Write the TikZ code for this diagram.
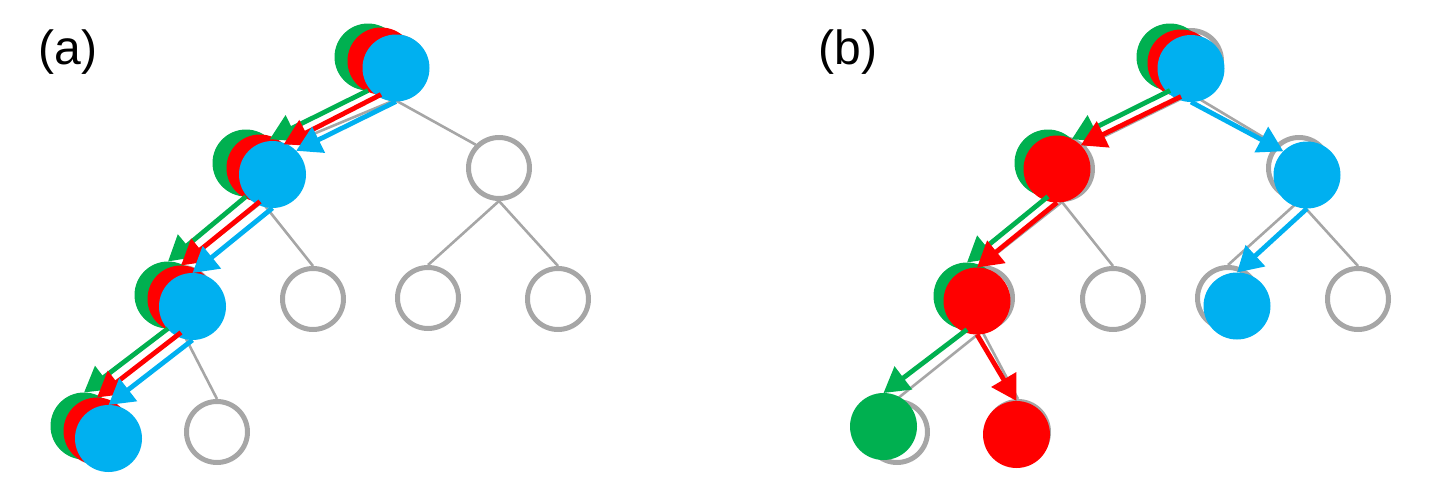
\documentclass[tikz,border=0pt]{standalone}
\usepackage{fontspec}
\setmainfont{Liberation Sans}
\usetikzlibrary{arrows.meta}
\definecolor{cgreen}{HTML}{00B050}
\definecolor{cred}{HTML}{FF0000}
\definecolor{cblue}{HTML}{00B0F0}
\definecolor{cgray}{HTML}{A6A6A6}
\tikzset{
  gnode/.style={circle,draw=cgray,line width=2.5pt,minimum size=30.5pt,inner sep=0pt},
  cnode/.style={circle,draw=none,fill=#1,minimum size=33.5pt,inner sep=0pt,outer sep=0pt},
  tedge/.style={draw=cgray,line width=1.3pt},
  arr/.style={draw=#1,line width=2.4pt,-{Triangle[length=12.5pt,width=14pt]}},
  lab/.style={anchor=base west,inner sep=0pt,font=\fontsize{24pt}{28pt}\selectfont}
}
\begin{document}
\begin{tikzpicture}[x=0.5pt,y=-0.5pt]
\useasboundingbox (0,0) rectangle (1442,487);
\node[lab] (la) at (38,64) {(a)};
\node[lab] (lb) at (818,64) {(b)};
% ---------- panel (a) gray tree ----------
\node[gnode] (a0) at (395,67) {};
\node[gnode] (aL) at (262,169) {};
\node[gnode] (aR) at (499,168) {};
\node[gnode] (aLL) at (182,298) {};
\node[gnode] (aLR) at (313,299) {};
\node[gnode] (aRL) at (428,298) {};
\node[gnode] (aRR) at (558,299) {};
\node[gnode] (aLLL) at (97,432) {};
\node[gnode] (aLLR) at (217,432) {};
\draw[tedge] (a0.south) -- (aL.north east);
\draw[tedge] (a0.south) -- (aR.north west);
\draw[tedge] (aL.south) -- (aLL.north);
\draw[tedge] (aL.south) -- (aLR.north);
\draw[tedge] (aR.south) -- (aRL.north);
\draw[tedge] (aR.south) -- (aRR.north);
\draw[tedge] (aLL.south) -- (aLLL.north);
\draw[tedge] (aLL.south) -- (aLLR.north);
% ---------- panel (b) gray tree ----------
\node[gnode] (b0) at (1191,61) {};
\node[gnode] (bL) at (1062,169) {};
\node[gnode] (bR) at (1299,168) {};
\node[gnode] (bLL) at (982,298) {};
\node[gnode] (bLR) at (1113,299) {};
\node[gnode] (bRL) at (1228,298) {};
\node[gnode] (bRR) at (1358,299) {};
\node[gnode] (bLLL) at (897,432) {};
\node[gnode] (bLLR) at (1018,432) {};
\draw[tedge] (b0.south) -- (bL.north east);
\draw[tedge] (b0.south) -- (bR.north west);
\draw[tedge] (bL.south) -- (bLL.north);
\draw[tedge] (bL.south) -- (bLR.north);
\draw[tedge] (bR.south) -- (bRL.north);
\draw[tedge] (bR.south) -- (bRR.north);
\draw[tedge] (bLL.south) -- (bLLL.north);
\draw[tedge] (bLL.south) -- (bLLR.north);
% ---------- panel (a) coloured circles ----------
\node[cnode=cgreen] (ag0) at (368,57) {};
\node[cnode=cred] (ar0) at (381,61) {};
\node[cnode=cblue] (ab0) at (396,68) {};
\node[cnode=cgreen] (ag1) at (246,163) {};
\node[cnode=cred] (ar1) at (260,168) {};
\node[cnode=cblue] (ab1) at (272.5,174.5) {};
\node[cnode=cgreen] (ag2) at (168,295) {};
\node[cnode=cred] (ar2) at (181,299) {};
\node[cnode=cblue] (ab2) at (192.5,306.5) {};
\node[cnode=cgreen] (ag3) at (84,426) {};
\node[cnode=cred] (ar3) at (97,431) {};
\node[cnode=cblue] (ab3) at (108.5,438.5) {};
\draw[arr=cgreen] (ag0.south) -- (ag1.north east);
\draw[arr=cgreen] (ag1.south) -- (ag2.north);
\draw[arr=cgreen] (ag2.south) -- (ag3.north);
\draw[arr=cred] (ar0.south) -- (ar1.north east);
\draw[arr=cred] (ar1.south) -- (ar2.north);
\draw[arr=cred] (ar2.south) -- (ar3.north);
\draw[arr=cblue] (ab0.south) -- (ab1.north east);
\draw[arr=cblue] (ab1.south) -- (ab2.north);
\draw[arr=cblue] (ab2.south) -- (ab3.north);
% ---------- panel (b) coloured circles ----------
\node[cnode=cgreen] (bg0) at (1170,57) {};
\node[cnode=cred] (br0) at (1181,63) {};
\node[cnode=cblue] (bb0) at (1191,68.5) {};
\node[cnode=cgreen] (bgL) at (1048,163) {};
\node[cnode=cred] (brL) at (1057,169) {};
\node[cnode=cblue] (bbR) at (1307,175) {};
\node[cnode=cgreen] (bgLL) at (967,296) {};
\node[cnode=cred] (brLL) at (977,301) {};
\node[cnode=cblue] (bbRL) at (1237,306) {};
\node[cnode=cgreen] (bgLLL) at (883.5,426.5) {};
\node[cnode=cred] (brLLR) at (1016.5,434.5) {};
\draw[arr=cgreen] (bg0.south) -- (bgL.north east);
\draw[arr=cgreen] (bgL.south) -- (bgLL.north);
\draw[arr=cgreen] (bgLL.south) -- (bgLLL.north);
\draw[arr=cred] (br0.south) -- (brL.north east);
\draw[arr=cred] (brL.south) -- (brLL.north);
\draw[arr=cred] (brLL.south) -- (brLLR.north);
\draw[arr=cblue] (bb0.south) -- (bbR.north west);
\draw[arr=cblue] (bbR.south) -- (bbRL.north);
\end{tikzpicture}
\end{document}
